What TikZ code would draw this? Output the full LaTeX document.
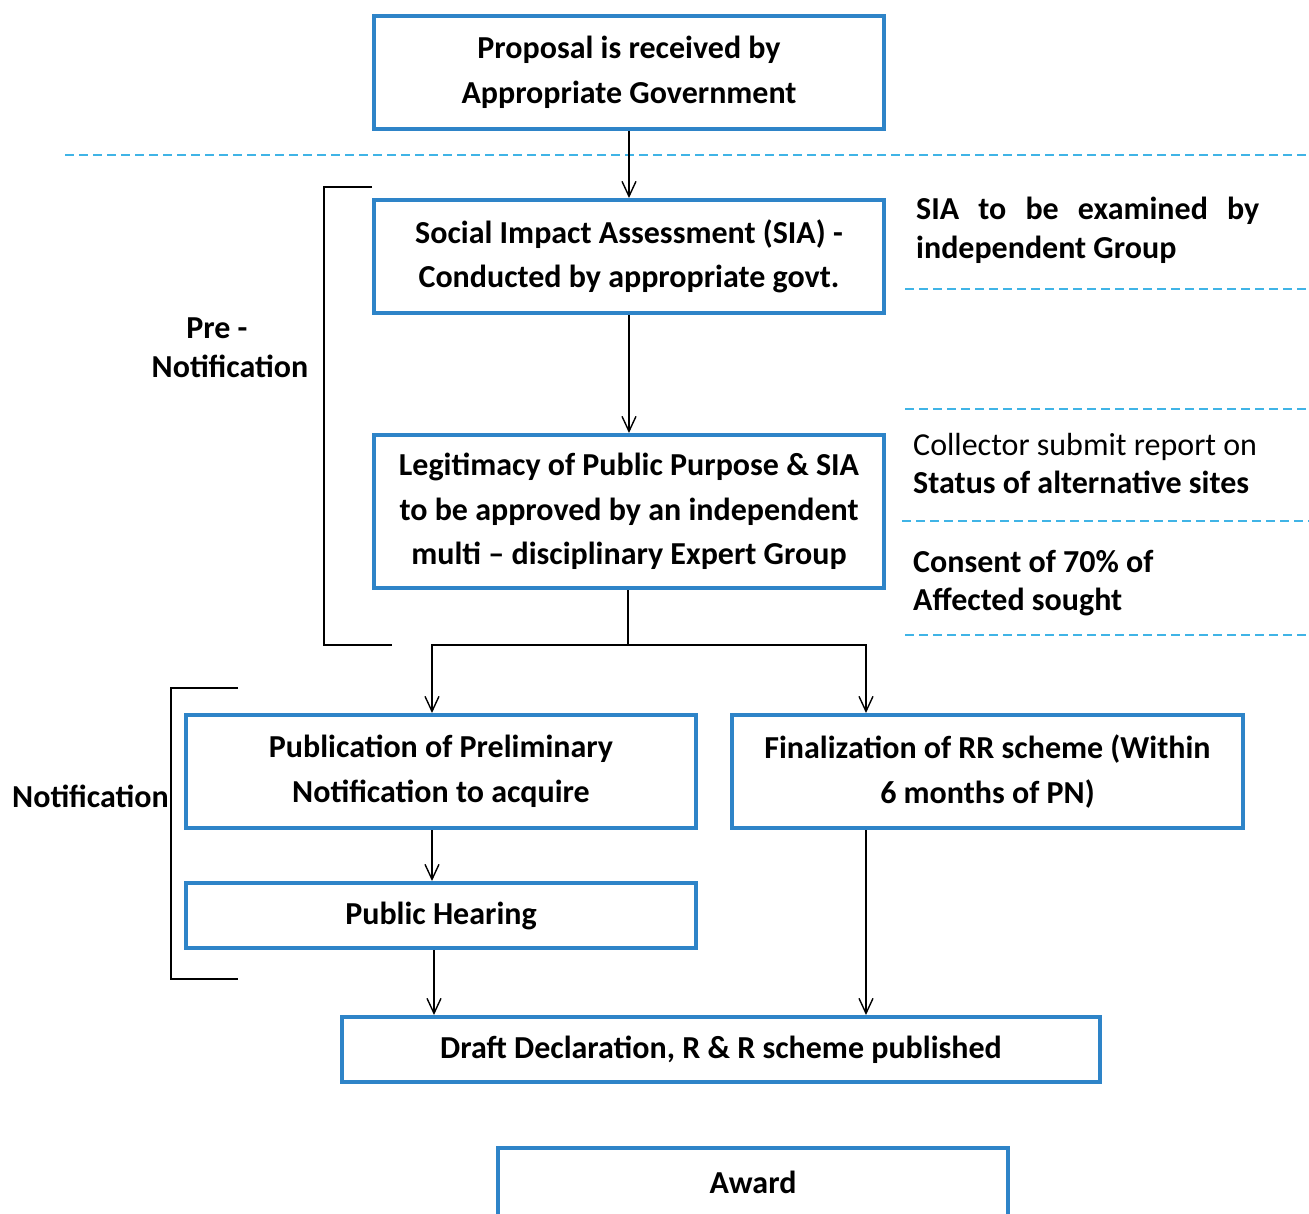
\documentclass[tikz,border=0pt]{standalone}
\usepackage{fontspec}
\setmainfont{Carlito}
\usetikzlibrary{arrows.meta,calc}
\definecolor{boxblue}{RGB}{46,132,200}
\definecolor{dashblue}{RGB}{64,180,230}
\begin{document}
\begin{tikzpicture}[x=1pt,y=-1pt,
  stepbox/.style={draw=boxblue,line width=4pt,rectangle,align=center,
    inner sep=0pt,font=\fontsize{32}{44.5}\selectfont\bfseries},
  arr/.style={line width=1.4pt,-{Straight Barb[length=15pt,width=14pt,line width=1.4pt]}},
  conn/.style={line width=1.4pt},
  sep/.style={dashblue,line width=2pt,dash pattern=on 9pt off 5pt},
  side/.style={anchor=base west,align=left,inner sep=0pt,
    font=\fontsize{32}{38.5}\selectfont},
  brace/.style={line width=1.4pt}]
\useasboundingbox (0,0) rectangle (1309,1214);
\clip (0,0) rectangle (1309,1214);

% flow boxes
\node[stepbox,minimum width=510pt,minimum height=113pt] (b1) at (629,72.5)
  {Proposal is received by\\Appropriate Government};
\node[stepbox,minimum width=510pt,minimum height=113pt] (b2) at (629,256.5)
  {Social Impact Assessment (SIA) -\\Conducted by appropriate govt.};
\node[stepbox,minimum width=510pt,minimum height=153pt] (b3) at (629,511.5)
  {Legitimacy of Public Purpose \& SIA\\to be approved by an independent\\multi -- disciplinary Expert Group};
\node[stepbox,minimum width=510pt,minimum height=113pt] (b4) at (441,771.5)
  {Publication of Preliminary\\Notification to acquire};
\node[stepbox,minimum width=511pt,minimum height=113pt] (b5) at (987.5,771.5)
  {Finalization of RR scheme (Within\\6 months of PN)};
\node[stepbox,minimum width=510pt,minimum height=65pt] (b6) at (441,915.5)
  {Public Hearing};
\node[stepbox,minimum width=758pt,minimum height=65pt] (b7) at (721,1049.5)
  {Draft Declaration, R \& R scheme published};
\node[stepbox,minimum width=510pt,minimum height=68pt] (b8) at (753,1182)
  {Award};

% stage separators
\draw[sep] (65,155) -- (1309,155);
\draw[sep] (905,289) -- (1309,289);
\draw[sep] (905,409) -- (1309,409);
\draw[sep] (902,521) -- (1309,521);
\draw[sep] (905,635) -- (1309,635);

% connectors
\coordinate (xl) at (432,0);
\coordinate (xr) at (866,0);
\coordinate (split) at (628,645);
\draw[arr] (b1) -- (b2);
\draw[arr] (b2) -- (b3);
\draw[conn] (b3.south -| split) -- (split);
\draw[arr] (split) -| (b4.north -| xl);
\draw[arr] (split) -| (b5.north -| xr);
\draw[arr] (b4.south -| xl) -- (b6.north -| xl);
\draw[arr] ($(b6.south -| xl)+(2,0)$) -- ($(b7.north -| xl)+(2,0)$);
\draw[arr] (b5.south -| xr) -- (b7.north -| xr);

% stage brackets
\draw[brace] (372,187) -- (324,187) -- (324,645) -- (392,645);
\draw[brace] (238,688) -- (171,688) -- (171,979) -- (238,979);
\node[align=center,inner sep=0pt,font=\fontsize{32}{39}\selectfont\bfseries] (pre) at (230,348)
  {Pre -\hspace*{26pt}\\Notification};
\node[inner sep=0pt,font=\fontsize{32}{39}\selectfont\bfseries] (noti) at (90.5,796)
  {Notification};

% side notes (anchored at the baseline of their last line)
\node[side,font=\fontsize{32}{38.5}\selectfont\bfseries] (n1) at (916,258.5)
  {\makebox[343pt][s]{SIA to be examined by}\\independent Group};
\node[side] (n2) at (913,493.5)
  {Collector submit report on\\\textbf{Status of alternative sites}};
\node[side,font=\fontsize{32}{38.5}\selectfont\bfseries] (n3) at (913,610.5)
  {Consent of 70\% of\\Affected sought};
\end{tikzpicture}
\end{document}
